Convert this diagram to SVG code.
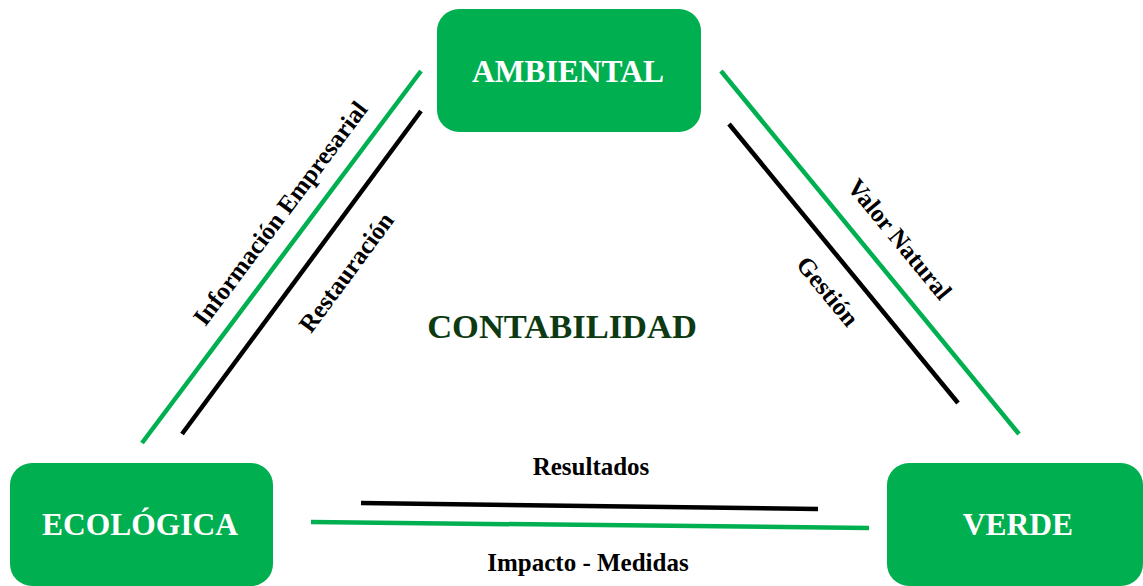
<svg xmlns="http://www.w3.org/2000/svg" width="1143" height="586" viewBox="0 0 1143 586">
<style>
.box{fill:#00AF50;}
.nt{font-family:"Liberation Serif","Times New Roman",serif;font-weight:bold;font-size:31.5px;fill:#ffffff;text-anchor:middle;}
.lbl{font-family:"Liberation Serif","Times New Roman",serif;font-weight:bold;font-size:25px;fill:#000000;text-anchor:middle;}
.title{font-family:"Liberation Serif","Times New Roman",serif;font-weight:bold;font-size:34.5px;fill:#0d3a12;text-anchor:middle;}
.g{stroke:#00B050;stroke-width:4.5;fill:none;}
.k{stroke:#000000;stroke-width:4.5;fill:none;}
</style>
<rect width="1143" height="586" fill="#ffffff"/>
<g id="connectors">
<line class="g" x1="421" y1="71" x2="142" y2="443"/>
<line class="k" x1="421" y1="111" x2="182" y2="434"/>
<line class="g" x1="721" y1="71" x2="1019" y2="434"/>
<line class="k" x1="729" y1="124" x2="958" y2="403"/>
<line class="k" x1="361" y1="503" x2="818" y2="509"/>
<line class="g" x1="311" y1="522" x2="869" y2="528"/>
<text class="lbl" transform="translate(280,213) rotate(-53.1)" dy="0.35em">Información Empresarial</text>
<text class="lbl" transform="translate(346,272) rotate(-53.6)" dy="0.35em">Restauración</text>
<text class="lbl" transform="translate(900,239) rotate(50.6)" dy="0.35em">Valor Natural</text>
<text class="lbl" transform="translate(828,291) rotate(50.6)" dy="0.35em">Gestión</text>
<text class="lbl" x="591" y="475">Resultados</text>
<text class="lbl" x="588" y="571">Impacto - Medidas</text>
</g>
<g id="ambiental">
<rect class="box" x="437" y="9" width="264" height="123" rx="22"/>
<text class="nt" x="568" y="82">AMBIENTAL</text>
</g>
<g id="ecologica">
<rect class="box" x="10" y="463" width="263" height="123" rx="22"/>
<text class="nt" x="140" y="535">ECOLÓGICA</text>
</g>
<g id="verde">
<rect class="box" x="887" y="463" width="256" height="123" rx="22"/>
<text class="nt" x="1018" y="535">VERDE</text>
</g>
<g id="contabilidad">
<text class="title" x="562" y="338">CONTABILIDAD</text>
</g>
</svg>
